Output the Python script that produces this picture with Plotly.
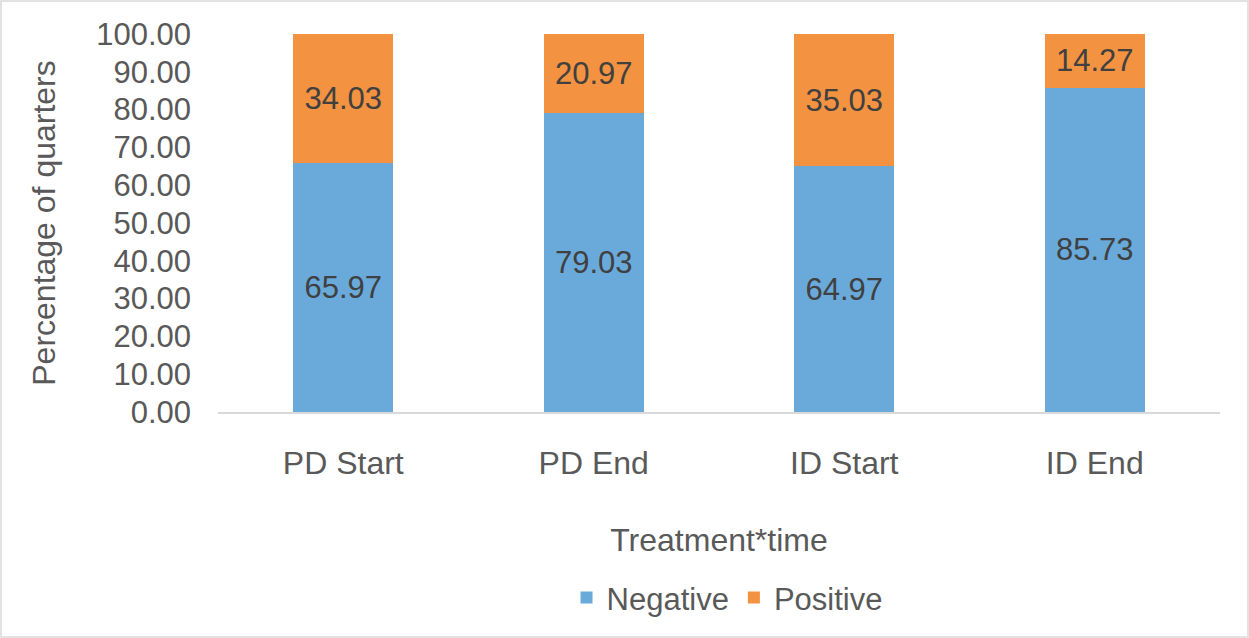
import plotly.graph_objects as go

categories = ["PD Start", "PD End", "ID Start", "ID End"]
negative = [65.97, 79.03, 64.97, 85.73]
positive = [34.03, 20.97, 35.03, 14.27]
y_ticks = [0, 10, 20, 30, 40, 50, 60, 70, 80, 90, 100]

W, H = 1249, 638
ml, mr, mt, mb = 218, 29, 34, 226
pw, ph = W - ml - mr, H - mt - mb

FONT = "Liberation Sans, Arial, sans-serif"
TXT = "#595959"

fig = go.Figure()
fig.add_trace(go.Bar(
    x=categories, y=negative, name="Negative",
    marker=dict(color="#6AAADB", line=dict(width=0)),
    text=[f"{v:.2f}" for v in negative], textposition="inside",
    insidetextanchor="middle", textangle=0,
    textfont=dict(family=FONT, size=31, color="#404040"),
))
fig.add_trace(go.Bar(
    x=categories, y=positive, name="Positive",
    marker=dict(color="#F39240", line=dict(width=0)),
    text=[f"{v:.2f}" for v in positive], textposition="inside",
    insidetextanchor="middle", textangle=0,
    textfont=dict(family=FONT, size=31, color="#404040"),
))

fig.update_layout(
    barmode="stack",
    bargap=0.6,
    width=W, height=H,
    margin=dict(l=ml, r=mr, t=mt, b=mb),
    paper_bgcolor="white", plot_bgcolor="white",
    font=dict(family=FONT, size=31, color=TXT),
    uniformtext=dict(mode="show", minsize=10),
    legend=dict(
        orientation="h", x=0.508, xanchor="center", y=-0.42, yanchor="top",
        font=dict(family=FONT, size=31, color=TXT),
        itemwidth=30, traceorder="normal",
    ),
    xaxis=dict(
        showline=True, linecolor="#D9D9D9", linewidth=2,
        ticks="", tickfont=dict(size=32, color=TXT),
        ticklabelstandoff=22,
        title=dict(text="Treatment*time", font=dict(size=32, color=TXT), standoff=48),
    ),
    yaxis=dict(
        range=[0, 100], tickvals=y_ticks,
        ticktext=[f"{v:.2f}" for v in y_ticks],
        showgrid=False, zeroline=False, showline=False, ticks="",
        tickfont=dict(size=31, color=TXT),
        ticklabelstandoff=26,
        title=dict(text="Percentage of quarters", font=dict(size=32, color=TXT), standoff=30),
    ),
    shapes=[dict(
        type="rect", xref="paper", yref="paper",
        x0=-(ml - 1) / pw, x1=1 + (mr - 1) / pw,
        y0=-(mb - 1) / ph, y1=1 + (mt - 1) / ph,
        line=dict(color="#D9D9D9", width=1.5), fillcolor="rgba(0,0,0,0)",
        layer="below",
    )],
)

fig.write_html(
    "out.html",
    config={"displayModeBar": False},
    post_script="document.body.style.margin='0';document.body.style.overflow='hidden';",
)
